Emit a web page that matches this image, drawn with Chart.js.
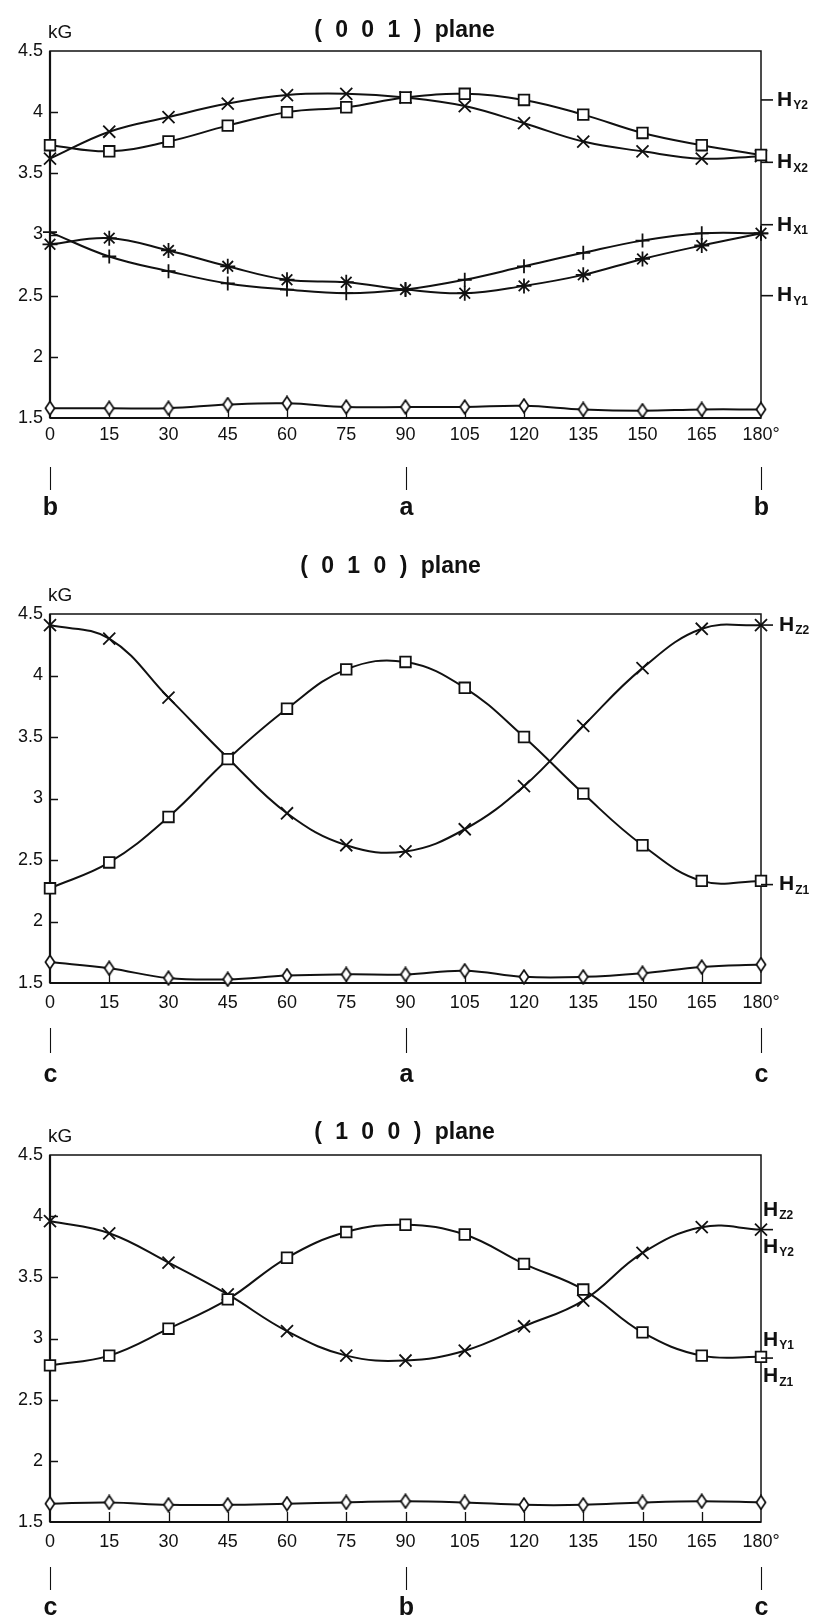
<!DOCTYPE html>
<html>
<head>
<meta charset="utf-8">
<script src="https://cdn.jsdelivr.net/npm/chart.js@4.4.1/dist/chart.umd.min.js"></script>
<style>
html,body{margin:0;padding:0;background:#fff;}
body{width:816px;height:1620px;position:relative;overflow:hidden;}
canvas{position:absolute;left:0;display:block;}
</style>
</head>
<body>
<canvas id="c1" width="816" height="545" style="top:0px;width:816px;height:545px"></canvas>
<canvas id="c2" width="816" height="555" style="top:545px;width:816px;height:555px"></canvas>
<canvas id="c3" width="816" height="520" style="top:1100px;width:816px;height:520px"></canvas>
<script>
// ---------- shared axis data ----------
const angles = [0, 15, 30, 45, 60, 75, 90, 105, 120, 135, 150, 165, 180];
const xTickLabels = ['0', '15', '30', '45', '60', '75', '90', '105', '120', '135', '150', '165', '180°'];
const yTickValues = [1.5, 2, 2.5, 3, 3.5, 4, 4.5];
const yTickLabels = ['1.5', '2', '2.5', '3', '3.5', '4', '4.5'];
const axisMarkAngles = [0, 90, 180];

// ---------- ( 0 0 1 ) plane ----------
const p001Title = '( 0 0 1 ) plane';
const p001Square  = [3.73, 3.68, 3.76, 3.89, 4.00, 4.04, 4.12, 4.15, 4.10, 3.98, 3.83, 3.73, 3.65];
const p001Cross   = [3.62, 3.84, 3.96, 4.07, 4.14, 4.15, 4.12, 4.05, 3.91, 3.76, 3.68, 3.62, 3.64];
const p001Plus    = [3.02, 2.82, 2.70, 2.60, 2.55, 2.52, 2.55, 2.63, 2.74, 2.85, 2.95, 3.01, 3.01];
const p001Star    = [2.92, 2.97, 2.87, 2.74, 2.63, 2.61, 2.55, 2.52, 2.58, 2.67, 2.80, 2.91, 3.01];
const p001Diamond = [1.58, 1.58, 1.58, 1.61, 1.62, 1.59, 1.59, 1.59, 1.60, 1.57, 1.56, 1.57, 1.57];
const p001LabelSubs   = ['Y2', 'X2', 'X1', 'Y1'];
const p001LabelValues = [4.10, 3.59, 3.08, 2.50];
const p001AxisLetters = ['b', 'a', 'b'];

// ---------- ( 0 1 0 ) plane ----------
const p010Title = '( 0 1 0 ) plane';
const p010Cross   = [4.41, 4.30, 3.82, 3.33, 2.88, 2.62, 2.57, 2.75, 3.10, 3.59, 4.06, 4.38, 4.41];
const p010Square  = [2.27, 2.48, 2.85, 3.32, 3.73, 4.05, 4.11, 3.90, 3.50, 3.04, 2.62, 2.33, 2.33];
const p010Diamond = [1.67, 1.62, 1.54, 1.53, 1.56, 1.57, 1.57, 1.60, 1.55, 1.55, 1.58, 1.63, 1.65];
const p010LabelSubs   = ['Z2', 'Z1'];
const p010LabelValues = [4.41, 2.30];
const p010AxisLetters = ['c', 'a', 'c'];

// ---------- ( 1 0 0 ) plane ----------
const p100Title = '( 1 0 0 ) plane';
const p100Cross   = [3.96, 3.86, 3.62, 3.36, 3.06, 2.86, 2.82, 2.90, 3.10, 3.31, 3.70, 3.91, 3.89];
const p100Square  = [2.78, 2.86, 3.08, 3.32, 3.66, 3.87, 3.93, 3.85, 3.61, 3.40, 3.05, 2.86, 2.85];
const p100Diamond = [1.65, 1.66, 1.64, 1.64, 1.65, 1.66, 1.67, 1.66, 1.64, 1.64, 1.66, 1.67, 1.66];
const p100LabelSubs   = ['Z2', 'Y2', 'Y1', 'Z1'];
const p100LabelValues = [4.05, 3.75, 2.99, 2.69];
const p100LeaderValues = [3.89, 2.84];
const p100AxisLetters = ['c', 'b', 'c'];

// ---------- rendering ----------
const INK = '#111';
const FONT = '"Liberation Sans", Arial, Helvetica, sans-serif';

// tall open diamond marker
const diamondMark = (() => {
  const c = document.createElement('canvas');
  c.width = 12; c.height = 16;
  const g = c.getContext('2d');
  g.fillStyle = '#fff'; g.strokeStyle = INK; g.lineWidth = 1.7;
  g.beginPath();
  g.moveTo(6, 1.2); g.lineTo(10.6, 8); g.lineTo(6, 14.8); g.lineTo(1.4, 8); g.closePath();
  g.fill(); g.stroke();
  return c;
})();

function series(vals, style, radius, fill) {
  return {
    data: angles.map((a, i) => ({ x: a, y: vals[i] })),
    borderColor: INK, borderWidth: 2, tension: 0.4, fill: false,
    pointStyle: style, pointRadius: radius, pointBorderWidth: 1.8,
    pointBorderColor: INK, pointBackgroundColor: fill, clip: false
  };
}

const framePlugin = {
  id: 'frame',
  beforeDatasetsDraw(chart) {
    const ctx = chart.ctx;
    const { left, right, top, bottom } = chart.chartArea;
    const xs = chart.scales.x, ys = chart.scales.y;
    ctx.save();
    ctx.strokeStyle = INK;
    ctx.lineWidth = 1.5;
    ctx.strokeRect(left, top, right - left, bottom - top);
    ctx.lineWidth = 2.2;
    ctx.beginPath(); ctx.moveTo(left, bottom); ctx.lineTo(right, bottom); ctx.stroke();
    ctx.beginPath(); ctx.moveTo(left, top); ctx.lineTo(left, bottom); ctx.stroke();
    ctx.lineWidth = 1.3;
    ctx.beginPath();
    ys.ticks.forEach(t => {
      if (t.value <= ys.min || t.value >= ys.max) return;
      const y = Math.round(ys.getPixelForValue(t.value)) + 0.5;
      ctx.moveTo(left, y); ctx.lineTo(left + 8, y);
    });
    xs.ticks.forEach(t => {
      if (t.value <= xs.min || t.value >= xs.max) return;
      const x = Math.round(xs.getPixelForValue(t.value)) + 0.5;
      ctx.moveTo(x, bottom); ctx.lineTo(x, bottom - 10);
    });
    ctx.stroke();
    ctx.restore();
  },
  afterDraw(chart, args, o) {
    const ctx = chart.ctx;
    const { left, right, top, bottom } = chart.chartArea;
    const xs = chart.scales.x, ys = chart.scales.y;
    ctx.save();
    ctx.fillStyle = INK; ctx.strokeStyle = INK;
    // title
    ctx.font = 'bold 23px ' + FONT;
    ctx.textAlign = 'center'; ctx.textBaseline = 'middle';
    try { ctx.wordSpacing = '7px'; } catch (e) {}
    ctx.fillText(o.title, (left + right) / 2 + o.titleDx, top - o.titleUp);
    try { ctx.wordSpacing = '0px'; } catch (e) {}
    // unit
    ctx.font = '19px ' + FONT;
    ctx.textAlign = 'left';
    ctx.fillText('kG', left - 2, top - 18);
    // leaders
    ctx.lineWidth = 1.6;
    (o.leaders || []).forEach(v => {
      const y = ys.getPixelForValue(v);
      ctx.beginPath(); ctx.moveTo(right, y); ctx.lineTo(right + 12, y); ctx.stroke();
    });
    // right labels
    o.subs.forEach((s, i) => {
      const y = ys.getPixelForValue(o.values[i]);
      ctx.font = 'bold 21px ' + FONT;
      ctx.textAlign = 'left'; ctx.textBaseline = 'middle';
      ctx.fillText('H', right + o.labelDx, y);
      const w = ctx.measureText('H').width;
      ctx.font = 'bold 12px ' + FONT;
      ctx.fillText(s, right + o.labelDx + w + 1, y + 6);
    });
    // crystal axis marks below
    ctx.lineWidth = 1.1;
    axisMarkAngles.forEach((a, i) => {
      const x = Math.round(xs.getPixelForValue(a)) + 0.5;
      ctx.beginPath(); ctx.moveTo(x, bottom + o.barTop); ctx.lineTo(x, bottom + o.barBottom); ctx.stroke();
      ctx.font = 'bold 25px ' + FONT;
      ctx.textAlign = 'center'; ctx.textBaseline = 'middle';
      ctx.fillText(o.letters[i], x, bottom + o.letterY);
    });
    ctx.restore();
  }
};

function makeChart(id, datasets, pad, deco) {
  return new Chart(document.getElementById(id), {
    type: 'line',
    data: { datasets },
    plugins: [framePlugin],
    options: {
      responsive: false, animation: false, events: [],
      layout: { padding: { left: 0, right: 55, top: pad.top, bottom: pad.bottom } },
      plugins: { legend: { display: false }, tooltip: { enabled: false }, frame: deco },
      scales: {
        x: {
          type: 'linear', min: 0, max: 180,
          afterBuildTicks: s => { s.ticks = angles.map(v => ({ value: v })); },
          afterFit: s => { s.height = 30; },
          grid: { display: false, drawTicks: false }, border: { display: false },
          ticks: { padding: pad.xLabel, maxRotation: 0, autoSkip: false, color: INK,
                   font: { family: FONT, size: 18 },
                   callback: v => xTickLabels[angles.indexOf(v)] }
        },
        y: {
          type: 'linear', min: 1.5, max: 4.5,
          afterBuildTicks: s => { s.ticks = yTickValues.map(v => ({ value: v })); },
          afterFit: s => { s.width = 50; },
          grid: { display: false, drawTicks: false }, border: { display: false },
          ticks: { padding: 7, color: INK, font: { family: FONT, size: 18 },
                   callback: v => yTickLabels[yTickValues.indexOf(v)] }
        }
      }
    }
  });
}

makeChart('c1', [
  series(p001Square, 'rect', 7.5, '#fff'),
  series(p001Cross, 'crossRot', 8.5, '#fff'),
  series(p001Plus, 'cross', 7, '#fff'),
  series(p001Star, 'star', 7.5, '#fff'),
  series(p001Diamond, diamondMark, 7, '#fff')
], { top: 51, bottom: 97, xLabel: 6 }, {
  title: p001Title, titleDx: -1, titleUp: 20,
  subs: p001LabelSubs, values: p001LabelValues, leaders: p001LabelValues, labelDx: 16,
  letters: p001AxisLetters, barTop: 49, barBottom: 72, letterY: 90
});

makeChart('c2', [
  series(p010Square, 'rect', 7.5, '#fff'),
  series(p010Cross, 'crossRot', 8.5, '#fff'),
  series(p010Diamond, diamondMark, 7, '#fff')
], { top: 69, bottom: 87, xLabel: 9 }, {
  title: p010Title, titleDx: -15, titleUp: 47,
  subs: p010LabelSubs, values: p010LabelValues, leaders: p010LabelValues, labelDx: 18,
  letters: p010AxisLetters, barTop: 45, barBottom: 70, letterY: 92
});

makeChart('c3', [
  series(p100Square, 'rect', 7.5, '#fff'),
  series(p100Cross, 'crossRot', 8.5, '#fff'),
  series(p100Diamond, diamondMark, 7, '#fff')
], { top: 55, bottom: 68, xLabel: 9 }, {
  title: p100Title, titleDx: -1, titleUp: 22,
  subs: p100LabelSubs, values: p100LabelValues, leaders: p100LeaderValues, labelDx: 2,
  letters: p100AxisLetters, barTop: 45, barBottom: 68, letterY: 86
});
</script>
</body>
</html>
